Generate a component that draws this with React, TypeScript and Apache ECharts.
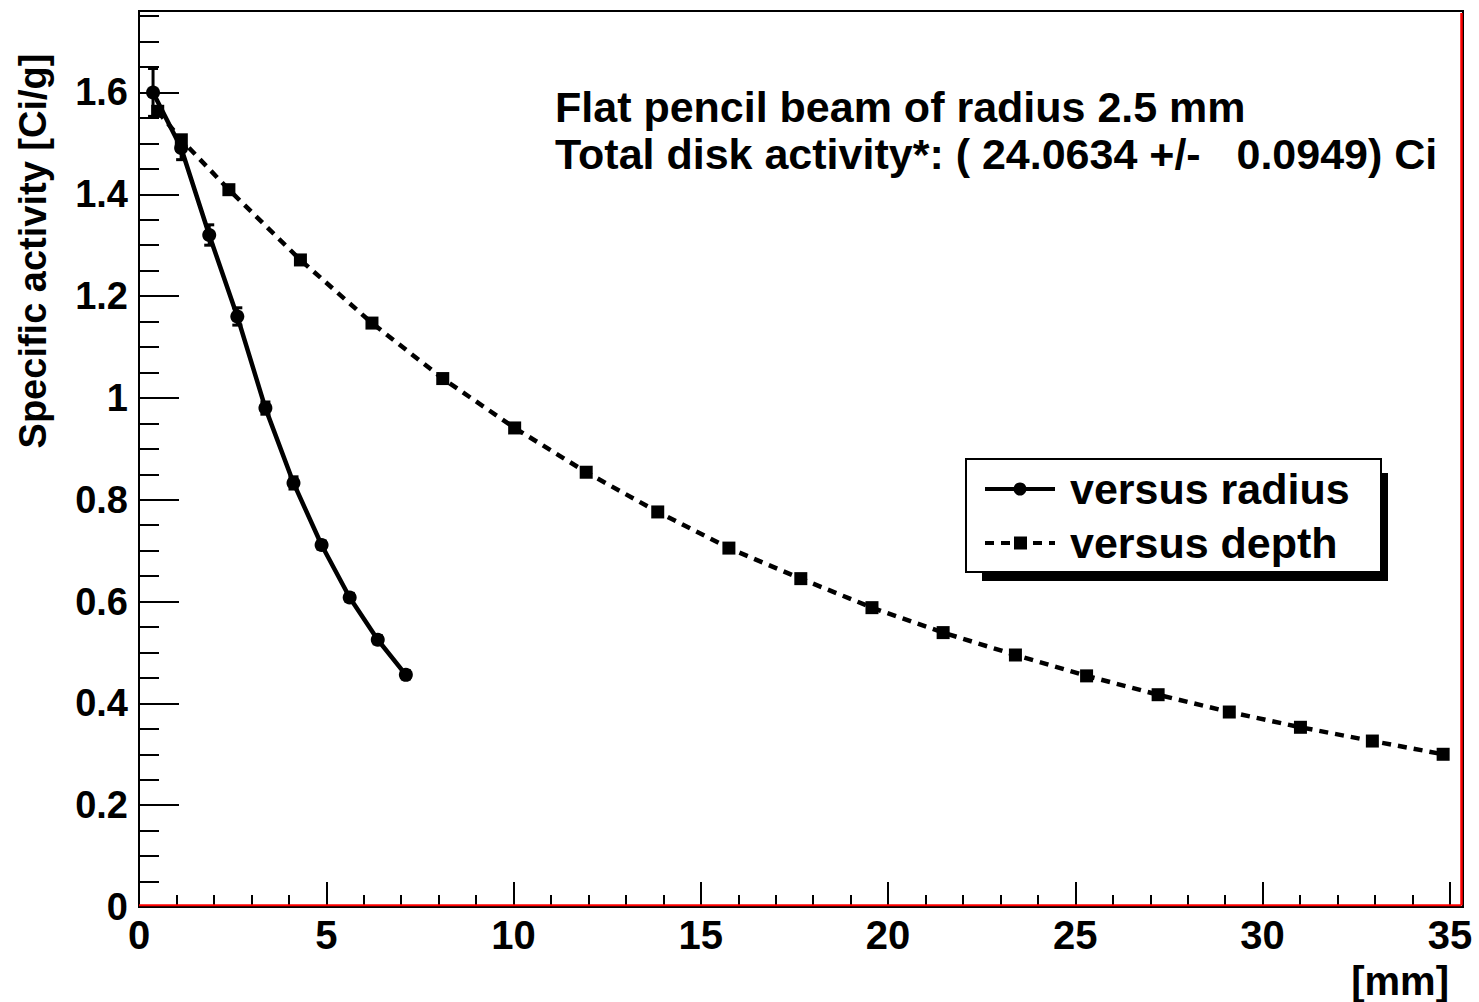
import React, { useEffect, useRef } from "react";
import * as echarts from "echarts";

// ---- data ----
const radiusX = [0.375, 1.125, 1.875, 2.625, 3.375, 4.125, 4.875, 5.625, 6.375, 7.125];
const radiusY = [1.6, 1.491, 1.32, 1.16, 0.98, 0.833, 0.711, 0.608, 0.525, 0.456];
const radiusErr = [0.047, 0.023, 0.02, 0.017, 0.012, 0.012, 0.008, 0.008, 0.008, 0.008];

const depthX = [0.5, 1.13, 2.4, 4.31, 6.22, 8.11, 10.03, 11.94, 13.85, 15.75, 17.67, 19.57, 21.47, 23.4, 25.3, 27.21, 29.11, 31.01, 32.93, 34.82];
const depthY = [1.563, 1.507, 1.409, 1.271, 1.147, 1.038, 0.941, 0.854, 0.776, 0.705, 0.645, 0.588, 0.539, 0.495, 0.454, 0.417, 0.383, 0.353, 0.326, 0.3];

const seriesNames = ["versus radius", "versus depth"];
const annotationLines = [
  "Flat pencil beam of radius 2.5 mm",
  "Total disk activity*: ( 24.0634 +/-   0.0949) Ci",
];
const xTitle = "[mm]";
const yTitle = "Specific activity [Ci/g]";

const FONT = '"Liberation Sans", Arial, Helvetica, sans-serif';

export default function App() {
  const ref = useRef<HTMLDivElement>(null);
  useEffect(() => {
    if (!ref.current) return;
    const chart = echarts.init(ref.current, null, { renderer: "svg" });
    const gridLeft = 139, gridTop = 11, gridW = 1324, gridH = 896;
    const lgX = 966, lgY = 459, lgW = 415, lgH = 113;
    const row1 = 489, row2 = 543;
    const option: any = {
      animation: false,
      backgroundColor: "#fff",
      grid: {
        left: gridLeft, top: gridTop, width: gridW, height: gridH,
        show: true, borderColor: "#000", borderWidth: 2, backgroundColor: "transparent",
        containLabel: false, outerBoundsMode: "none",
      },
      xAxis: {
        type: "value", min: 0, max: 35.35, interval: 5,
        axisLine: { show: true, onZero: false, lineStyle: { color: "#000", width: 2 } },
        axisTick: { show: true, inside: true, length: 25, lineStyle: { color: "#000", width: 2 } },
        minorTick: { show: true, splitNumber: 5, length: 12, lineStyle: { color: "#000", width: 2 } },
        splitLine: { show: false },
        minorSplitLine: { show: false },
        axisLabel: {
          show: true, margin: 8, color: "#000", fontFamily: FONT, fontWeight: "bold", fontSize: 40,
          showMaxLabel: false,
          formatter: (v: number) => (Math.abs(v % 5) < 1e-9 ? String(v) : ""),
        },
      },
      yAxis: {
        type: "value", min: 0, max: 1.76, interval: 0.2,
        axisLine: { show: true, onZero: false, lineStyle: { color: "#000", width: 2 } },
        axisTick: { show: true, inside: true, length: 40, lineStyle: { color: "#000", width: 2 } },
        minorTick: { show: true, splitNumber: 4, length: 20, lineStyle: { color: "#000", width: 2 } },
        splitLine: { show: false },
        minorSplitLine: { show: false },
        axisLabel: {
          show: true, margin: 11, color: "#000", fontFamily: FONT, fontWeight: "bold", fontSize: 38,
          showMaxLabel: false,
          formatter: (v: number) => {
            const r = Math.round(v * 10) / 10;
            if (Math.abs(v - r) > 1e-6) return "";
            return String(r);
          },
        },
      },
      graphic: [
        // legend shadow + box
        { type: "rect", z: 20, shape: { x: lgX + 16, y: lgY + 14, width: lgW - 9, height: lgH - 5 }, style: { fill: "#000" } },
        { type: "rect", z: 21, shape: { x: lgX, y: lgY, width: lgW, height: lgH }, style: { fill: "#fff", stroke: "#000", lineWidth: 2 } },
        // legend entry 1
        { type: "line", z: 22, shape: { x1: lgX + 19, y1: row1, x2: lgX + 89, y2: row1 }, style: { stroke: "#000", lineWidth: 4 } },
        { type: "circle", z: 23, shape: { cx: lgX + 54, cy: row1, r: 6.5 }, style: { fill: "#000" } },
        { type: "text", z: 23, x: lgX + 104, y: row1, style: { text: seriesNames[0], fill: "#000", font: `bold 43px ${FONT}`, verticalAlign: "middle" } },
        // legend entry 2
        { type: "line", z: 22, shape: { x1: lgX + 19, y1: row2, x2: lgX + 89, y2: row2 }, style: { stroke: "#000", lineWidth: 4, lineDash: [9, 7] } },
        { type: "rect", z: 23, shape: { x: lgX + 48, y: row2 - 6.5, width: 13, height: 13 }, style: { fill: "#000" } },
        { type: "text", z: 23, x: lgX + 104, y: row2, style: { text: seriesNames[1], fill: "#000", font: `bold 43px ${FONT}`, verticalAlign: "middle" } },
        // red frame lines (bottom and right)
        { type: "line", z: 10, shape: { x1: gridLeft, y1: 905.3, x2: gridLeft + gridW - 1.5, y2: 905.3 }, style: { stroke: "#ff0000", lineWidth: 2 } },
        { type: "line", z: 10, shape: { x1: gridLeft + gridW - 1.5, y1: gridTop + 2, x2: gridLeft + gridW - 1.5, y2: 905.3 }, style: { stroke: "#ff0000", lineWidth: 2.5 } },
        // annotation text
        {
          type: "text", z: 10, x: 555, y: 107,
          style: { text: annotationLines[0], fill: "#000", font: `bold 43px ${FONT}`, verticalAlign: "middle" },
        },
        {
          type: "text", z: 10, x: 555, y: 154,
          style: { text: annotationLines[1], fill: "#000", font: `bold 43px ${FONT}`, verticalAlign: "middle" },
        },
        // y axis title
        {
          type: "text", z: 10, x: 33, y: 251, rotation: Math.PI / 2,
          style: { text: yTitle, fill: "#000", font: `bold 38px ${FONT}`, align: "center", verticalAlign: "middle" },
        },
        // x axis title
        {
          type: "text", z: 10, x: 1449, y: 981,
          style: { text: xTitle, fill: "#000", font: `bold 40px ${FONT}`, align: "right", verticalAlign: "middle" },
        },
      ],
      series: [
        {
          name: seriesNames[0],
          type: "line",
          data: radiusX.map((x, i) => [x, radiusY[i]]),
          symbol: "circle", symbolSize: 14,
          lineStyle: { color: "#000", width: 4.5, type: "solid" },
          itemStyle: { color: "#000" },
          z: 4,
        },
        {
          name: seriesNames[1],
          type: "line",
          data: depthX.map((x, i) => [x, depthY[i]]),
          symbol: "rect", symbolSize: 13,
          lineStyle: { color: "#000", width: 4.5, type: [9, 7] },
          itemStyle: { color: "#000" },
          z: 3,
        },
        {
          name: "radius errors",
          type: "custom",
          data: radiusX.map((x, i) => [x, radiusY[i], radiusErr[i]]),
          encode: { x: 0, y: 1 },
          silent: true,
          z: 5,
          renderItem: (_params: any, api: any) => {
            const x = api.value(0), y = api.value(1), e = api.value(2);
            const t = api.coord([x, y + e]);
            const b = api.coord([x, y - e]);
            const hw = 5;
            const st = { stroke: "#000", lineWidth: 3 };
            return {
              type: "group",
              children: [
                { type: "line", shape: { x1: t[0], y1: t[1], x2: b[0], y2: b[1] }, style: st },
                { type: "line", shape: { x1: t[0] - hw, y1: t[1], x2: t[0] + hw, y2: t[1] }, style: st },
                { type: "line", shape: { x1: b[0] - hw, y1: b[1], x2: b[0] + hw, y2: b[1] }, style: st },
              ],
            };
          },
        },
      ],
    };
    chart.setOption(option);
    return () => chart.dispose();
  }, []);
  return (
    <div
      ref={ref}
      style={{ position: "fixed", left: 0, top: 0, width: 1479, height: 1002, background: "#fff" }}
    />
  );
}
